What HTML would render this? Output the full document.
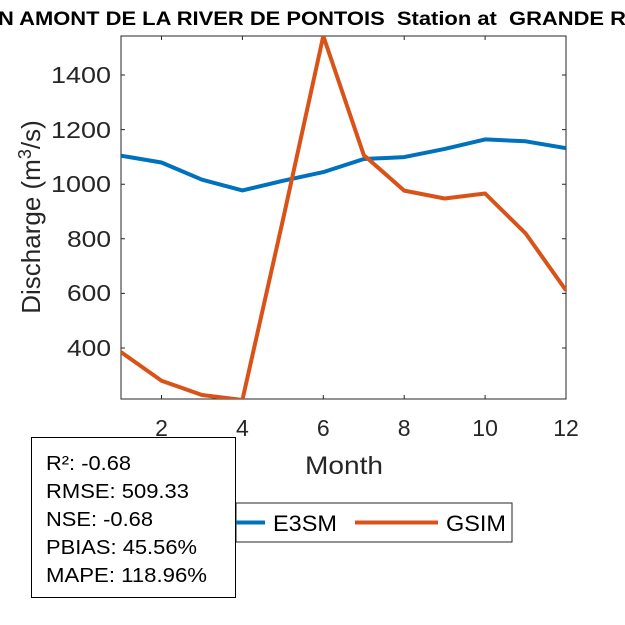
<!DOCTYPE html>
<html><head><meta charset="utf-8"><style>body{margin:0;background:#fff}svg{display:block}</style></head>
<body>
<svg width="625" height="625" viewBox="0 0 625 625" xmlns="http://www.w3.org/2000/svg" font-family="Liberation Sans, Arial, sans-serif">
<defs><clipPath id="c"><rect x="121" y="36" width="445" height="363"/></clipPath></defs>
<rect width="625" height="625" fill="#fff"/>
<text x="-2" y="25" font-size="19" font-weight="bold" fill="#000" xml:space="preserve" textLength="628" lengthAdjust="spacingAndGlyphs">N AMONT DE LA RIVER DE PONTOIS  Station at  GRANDE R</text>
<g stroke="#262626" stroke-width="1">
<rect x="121" y="36" width="445" height="363" fill="none"/>
<path d="M161.5 399v-4M242.4 399v-4M323.3 399v-4M404.2 399v-4M485.1 399v-4M161.5 36v4M242.4 36v4M323.3 36v4M404.2 36v4M485.1 36v4"/>
<path d="M121 348h4M121 293.4h4M121 238.8h4M121 184.2h4M121 129.6h4M121 75h4M566 348h-4M566 293.4h-4M566 238.8h-4M566 184.2h-4M566 129.6h-4M566 75h-4"/>
</g>
<g font-size="23" fill="#262626" text-anchor="end">
<text x="111" y="356" textLength="44" lengthAdjust="spacingAndGlyphs">400</text><text x="111" y="301" textLength="44" lengthAdjust="spacingAndGlyphs">600</text><text x="111" y="247" textLength="44" lengthAdjust="spacingAndGlyphs">800</text><text x="111" y="192" textLength="60" lengthAdjust="spacingAndGlyphs">1000</text><text x="111" y="138" textLength="60" lengthAdjust="spacingAndGlyphs">1200</text><text x="111" y="83" textLength="60" lengthAdjust="spacingAndGlyphs">1400</text>
</g>
<g font-size="23" fill="#262626" text-anchor="middle">
<text x="161.5" y="436">2</text><text x="242.4" y="436">4</text><text x="323.3" y="436">6</text><text x="404.2" y="436">8</text><text x="485.1" y="436">10</text><text x="566" y="436">12</text>
</g>
<text x="305" y="474" font-size="25" fill="#262626" textLength="78" lengthAdjust="spacingAndGlyphs">Month</text>
<text transform="translate(40,217) rotate(-90)" font-size="26" fill="#262626" text-anchor="middle">Discharge (m<tspan dy="-9" font-size="18">3</tspan><tspan dy="9">/s)</tspan></text>
<g clip-path="url(#c)" fill="none" stroke-width="4" stroke-linejoin="round">
<polyline stroke="#0072BD" points="121,155.7 161.5,162.5 202,179.7 242.4,190.4 282.9,180.8 323.3,172.1 363.8,159 404.2,157.1 444.7,148.9 485.1,139.4 525.6,141.3 566,148.1"/>
<polyline stroke="#D95319" points="121,352.1 161.5,380.7 202,395 242.4,400 282.9,220 323.3,36 363.8,155.1 404.2,190.6 444.7,198.5 485.1,193.5 525.6,233.4 566,290.4"/>
</g>
<rect x="236" y="503" width="276" height="39" fill="#fff" stroke="#262626"/>
<line x1="230" y1="522.5" x2="265" y2="522.5" stroke="#0072BD" stroke-width="4"/>
<text x="273" y="531" font-size="22" fill="#000" textLength="64" lengthAdjust="spacingAndGlyphs">E3SM</text>
<line x1="355" y1="522.5" x2="438" y2="522.5" stroke="#D95319" stroke-width="4"/>
<text x="446" y="531" font-size="22" fill="#000" textLength="60" lengthAdjust="spacingAndGlyphs">GSIM</text>
<rect x="31.5" y="437.5" width="204" height="160" fill="#fff" stroke="#000"/>
<g font-size="20" fill="#000" lengthAdjust="spacingAndGlyphs">
<text x="46" y="470" textLength="85" lengthAdjust="spacingAndGlyphs">R²: -0.68</text>
<text x="46" y="498" textLength="143" lengthAdjust="spacingAndGlyphs">RMSE: 509.33</text>
<text x="46" y="526" textLength="107" lengthAdjust="spacingAndGlyphs">NSE: -0.68</text>
<text x="46" y="554" textLength="151" lengthAdjust="spacingAndGlyphs">PBIAS: 45.56%</text>
<text x="46" y="582" textLength="161" lengthAdjust="spacingAndGlyphs">MAPE: 118.96%</text>
</g>
</svg>
</body></html>
